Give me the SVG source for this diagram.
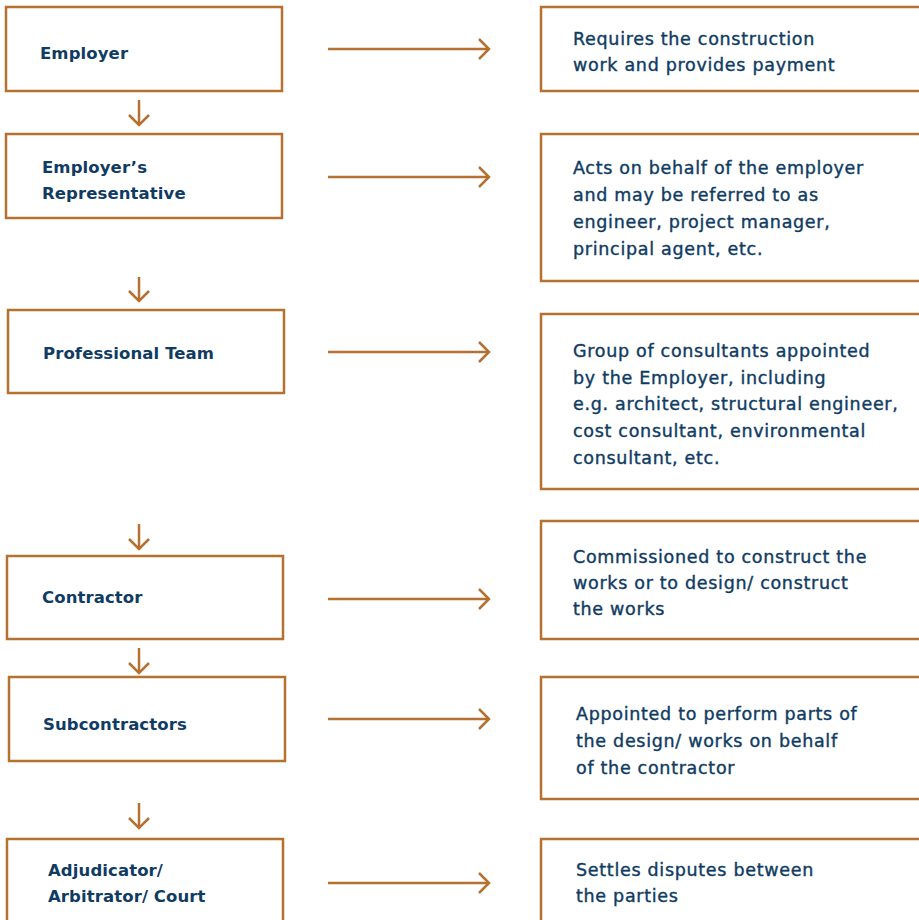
<svg xmlns="http://www.w3.org/2000/svg" width="919" height="920" viewBox="0 0 919 920">
<style>
.box{fill:#fff;stroke:#b5712f;stroke-width:2.5}
.con{fill:none;stroke:#b5712f;stroke-width:2.5}
.lbl{font-family:"DejaVu Sans","Liberation Sans",sans-serif;font-weight:bold;font-size:16.5px;letter-spacing:0.1px;fill:#103c63}
.dsc{font-family:"DejaVu Sans","Liberation Sans",sans-serif;font-size:17.5px;letter-spacing:0.7px;fill:#103c63;stroke:#103c63;stroke-width:0.4}
</style>
<defs>
<marker id="chev" markerUnits="userSpaceOnUse" viewBox="-1 -1 13 23" refX="10" refY="10" markerWidth="13" markerHeight="23" orient="auto">
<path d="M0,0 L10,10 L0,20" fill="none" stroke="#b5712f" stroke-width="2.5"/>
</marker>
</defs>
<rect width="919" height="920" fill="#fff"/>
<g id="connectors">
<path class="con" marker-end="url(#chev)" d="M139,100 V125"/>
<path class="con" marker-end="url(#chev)" d="M139,277 V301"/>
<path class="con" marker-end="url(#chev)" d="M139,524 V549"/>
<path class="con" marker-end="url(#chev)" d="M139,648 V673"/>
<path class="con" marker-end="url(#chev)" d="M139,803 V828"/>
<path class="con" marker-end="url(#chev)" d="M328,49 H489"/>
<path class="con" marker-end="url(#chev)" d="M328,177 H489"/>
<path class="con" marker-end="url(#chev)" d="M328,352 H489"/>
<path class="con" marker-end="url(#chev)" d="M328,599 H489"/>
<path class="con" marker-end="url(#chev)" d="M328,719 H489"/>
<path class="con" marker-end="url(#chev)" d="M328,883 H489"/>
</g>
<g id="employer"><rect class="box" x="6" y="7" width="276" height="84"/><text class="lbl" x="40" y="59">Employer</text></g>
<g id="employers-rep"><rect class="box" x="6" y="134" width="276" height="84"/><text class="lbl" x="42" y="173">Employer’s</text><text class="lbl" x="42" y="199">Representative</text></g>
<g id="professional-team"><rect class="box" x="8" y="310" width="276" height="83"/><text class="lbl" x="43" y="359">Professional Team</text></g>
<g id="contractor"><rect class="box" x="7" y="556" width="276" height="83"/><text class="lbl" x="42" y="603">Contractor</text></g>
<g id="subcontractors"><rect class="box" x="9" y="677" width="276" height="84"/><text class="lbl" x="43" y="730">Subcontractors</text></g>
<g id="adjudicator"><rect class="box" x="7" y="839" width="276" height="90"/><text class="lbl" x="48" y="876">Adjudicator/</text><text class="lbl" x="48" y="902">Arbitrator/ Court</text></g>
<g id="desc-employer"><rect class="box" x="541" y="7" width="380" height="84"/><text class="dsc" x="573" y="45">Requires the construction</text><text class="dsc" x="573" y="71">work and provides payment</text></g>
<g id="desc-rep"><rect class="box" x="541" y="134" width="380" height="147"/><text class="dsc" x="573" y="174">Acts on behalf of the employer</text><text class="dsc" x="573" y="201">and may be referred to as</text><text class="dsc" x="573" y="228">engineer, project manager,</text><text class="dsc" x="573" y="255">principal agent, etc.</text></g>
<g id="desc-team"><rect class="box" x="541" y="314" width="380" height="175"/><text class="dsc" x="573" y="357">Group of consultants appointed</text><text class="dsc" x="573" y="384">by the Employer, including</text><text class="dsc" x="573" y="410">e.g. architect, structural engineer,</text><text class="dsc" x="573" y="437">cost consultant, environmental</text><text class="dsc" x="573" y="464">consultant, etc.</text></g>
<g id="desc-contractor"><rect class="box" x="541" y="521" width="380" height="118"/><text class="dsc" x="573" y="563">Commissioned to construct the</text><text class="dsc" x="573" y="589">works or to design/ construct</text><text class="dsc" x="573" y="615">the works</text></g>
<g id="desc-sub"><rect class="box" x="541" y="677" width="380" height="122"/><text class="dsc" x="576" y="720">Appointed to perform parts of</text><text class="dsc" x="576" y="747">the design/ works on behalf</text><text class="dsc" x="576" y="774">of the contractor</text></g>
<g id="desc-adj"><rect class="box" x="541" y="839" width="380" height="90"/><text class="dsc" x="576" y="876">Settles disputes between</text><text class="dsc" x="576" y="902">the parties</text></g>
</svg>
